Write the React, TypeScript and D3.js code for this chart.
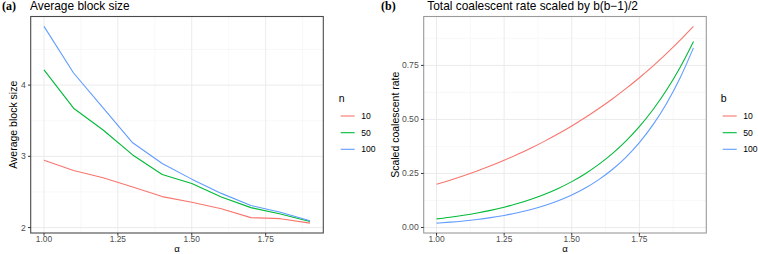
import React from 'react';
import * as d3 from 'd3';

// ---------- Panel (a): average block size ----------
const alphaA = [1.0, 1.1, 1.2, 1.3, 1.4, 1.5, 1.6, 1.7, 1.8, 1.9];
const blockN10 = [2.944, 2.8, 2.7, 2.57, 2.435, 2.355, 2.265, 2.14, 2.125, 2.062];
const blockN50 = [4.215, 3.676, 3.37, 3.02, 2.746, 2.62, 2.43, 2.28, 2.19, 2.085];
const blockN100 = [4.825, 4.17, 3.68, 3.19, 2.9, 2.68, 2.48, 2.31, 2.215, 2.095];
const seriesLabelsA = ['10', '50', '100'];
const yTicksA = [2, 3, 4];
const xTicks = [1.0, 1.25, 1.5, 1.75];

// ---------- Panel (b): scaled coalescent rate ----------
const alphaB = [1.0, 1.05, 1.1, 1.15, 1.2, 1.25, 1.3, 1.35, 1.4, 1.45, 1.5, 1.55, 1.6, 1.65, 1.7, 1.75, 1.8, 1.85, 1.9, 1.95];
const rateB10 = [0.2, 0.219, 0.2395, 0.2616, 0.2854, 0.311, 0.3384, 0.368, 0.3996, 0.4335, 0.4699, 0.5087, 0.5503, 0.5947, 0.6422, 0.6927, 0.7467, 0.8042, 0.8655, 0.9307];
const rateB50 = [0.04, 0.0476, 0.0565, 0.067, 0.0793, 0.0937, 0.1106, 0.1304, 0.1536, 0.1807, 0.2122, 0.249, 0.2919, 0.3417, 0.3996, 0.4667, 0.5447, 0.635, 0.7395, 0.8603];
const rateB100 = [0.02, 0.0246, 0.0303, 0.0372, 0.0456, 0.0558, 0.0682, 0.0832, 0.1015, 0.1235, 0.1503, 0.1825, 0.2216, 0.2684, 0.3249, 0.3929, 0.4745, 0.5726, 0.6902, 0.8312];
const seriesLabelsB = ['10', '50', '100'];
const yTicksB = [0.0, 0.25, 0.5, 0.75];

const colors = ['#F8766D', '#00BA38', '#619CFF'];
const FONT = '"Liberation Sans", Arial, Helvetica, sans-serif';
const SERIF = '"Liberation Serif", "Times New Roman", serif';

type PanelProps = {
  x0: number; x1: number; y0: number; y1: number;
  xs: number[]; series: number[][]; labels: string[];
  yTicks: number[]; yFmt: (v: number) => string;
  tag: string; tagX: number; title: string; titleX: number;
  yTitle: string; yTitleX: number;
  legendTitle: string; legendX: number;
  borderColor: string; smooth: boolean;
};

function expand(lo: number, hi: number): [number, number] {
  const p = (hi - lo) * 0.05;
  return [lo - p, hi + p];
}

function Panel(p: PanelProps) {
  const allY = p.series.flat();
  const x = d3.scaleLinear().domain(expand(d3.min(p.xs)!, d3.max(p.xs)!)).range([p.x0, p.x1]);
  const y = d3.scaleLinear().domain(expand(d3.min(allY)!, d3.max(allY)!)).range([p.y1, p.y0]);
  const line = d3.line<[number, number]>().x(d => x(d[0])).y(d => y(d[1]))
    .curve(p.smooth ? d3.curveMonotoneX : d3.curveLinear);
  const xMinor = xTicks.map(t => t + 0.125).filter(t => x(t) < p.x1);
  const ys = y.domain();
  const yStep = p.yTicks[1] - p.yTicks[0];
  const yMinor: number[] = [];
  for (let t = p.yTicks[0] - yStep / 2; t <= ys[1]; t += yStep) if (t >= ys[0]) yMinor.push(t);
  const legY = [116, 132.7, 149.3];
  return (
    <g>
      <text x={p.tagX} y={9.7} fontFamily={SERIF} fontWeight="bold" fontSize={12}>{p.tag}</text>
      <text x={p.titleX} y={9.7} fontFamily={FONT} fontSize={11.9}>{p.title}</text>
      <rect x={p.x0} y={p.y0} width={p.x1 - p.x0} height={p.y1 - p.y0} fill="white" />
      {yMinor.map((t, i) => (
        <line key={'ym' + i} x1={p.x0} x2={p.x1} y1={y(t)} y2={y(t)} stroke="#F3F3F3" strokeWidth={0.6} />
      ))}
      {xMinor.map((t, i) => (
        <line key={'xm' + i} x1={x(t)} x2={x(t)} y1={p.y0} y2={p.y1} stroke="#F3F3F3" strokeWidth={0.6} />
      ))}
      {p.yTicks.map((t, i) => (
        <line key={'yg' + i} x1={p.x0} x2={p.x1} y1={y(t)} y2={y(t)} stroke="#EBEBEB" strokeWidth={1} />
      ))}
      {xTicks.map((t, i) => (
        <line key={'xg' + i} x1={x(t)} x2={x(t)} y1={p.y0} y2={p.y1} stroke="#EBEBEB" strokeWidth={1} />
      ))}
      {p.series.map((s, i) => (
        <path key={'s' + i} d={line(p.xs.map((v, j) => [v, s[j]] as [number, number]))!} fill="none" stroke={colors[i]} strokeWidth={1.1} strokeLinejoin="round" />
      ))}
      <rect x={p.x0} y={p.y0} width={p.x1 - p.x0} height={p.y1 - p.y0} fill="none" stroke={p.borderColor} strokeWidth={1.1} />
      {p.yTicks.map((t, i) => (
        <g key={'yt' + i}>
          <line x1={p.x0 - 2.7} x2={p.x0} y1={y(t)} y2={y(t)} stroke="#333" strokeWidth={1} />
          <text x={p.x0 - 5} y={y(t)} dy="0.35em" textAnchor="end" fontFamily={FONT} fontSize={8.6} fill="#4D4D4D">{p.yFmt(t)}</text>
        </g>
      ))}
      {xTicks.map((t, i) => (
        <g key={'xt' + i}>
          <line x1={x(t)} x2={x(t)} y1={p.y1} y2={p.y1 + 2.7} stroke="#333" strokeWidth={1} />
          <text x={x(t)} y={241.6} textAnchor="middle" fontFamily={FONT} fontSize={8.4} fill="#4D4D4D">{d3.format('.2f')(t)}</text>
        </g>
      ))}
      <text x={(p.x0 + p.x1) / 2} y={251.7} textAnchor="middle" fontFamily={FONT} fontSize={9.6}>α</text>
      <text transform={`translate(${p.yTitleX},${(p.y0 + p.y1) / 2}) rotate(-90)`} textAnchor="middle" fontFamily={FONT} fontSize={10.5}>{p.yTitle}</text>
      <text x={p.legendX - 2} y={101.7} fontFamily={FONT} fontSize={10.5}>{p.legendTitle}</text>
      {p.labels.map((l, i) => (
        <g key={'lg' + i}>
          <line x1={p.legendX} x2={p.legendX + 14} y1={legY[i]} y2={legY[i]} stroke={colors[i]} strokeWidth={1.1} />
          <text x={p.legendX + 20.5} y={legY[i]} dy="0.35em" fontFamily={FONT} fontSize={8.6}>{l}</text>
        </g>
      ))}
    </g>
  );
}

export default function App() {
  return (
    <svg width={758} height={254} style={{ position: 'absolute', left: 0, top: 0, background: 'white' }}>
      <rect x={0} y={0} width={758} height={254} fill="white" />
      <Panel
        x0={30.7} x1={323.3} y0={16.5} y1={233}
        xs={alphaA} series={[blockN10, blockN50, blockN100]} labels={seriesLabelsA}
        yTicks={yTicksA} yFmt={d3.format('d')}
        tag="(a)" tagX={2} title="Average block size" titleX={30}
        yTitle="Average block size" yTitleX={16.7}
        legendTitle="n" legendX={340.7} borderColor="#4a4a4a" smooth={false}
      />
      <Panel
        x0={423.7} x1={706.3} y0={16.5} y1={233}
        xs={alphaB} series={[rateB10, rateB50, rateB100]} labels={seriesLabelsB}
        yTicks={yTicksB} yFmt={d3.format('.2f')}
        tag="(b)" tagX={381} title="Total coalescent rate scaled by b(b−1)/2" titleX={427.3}
        yTitle="Scaled coalescent rate" yTitleX={399}
        legendTitle="b" legendX={722.7} borderColor="#9a9a9a" smooth={true}
      />
    </svg>
  );
}
